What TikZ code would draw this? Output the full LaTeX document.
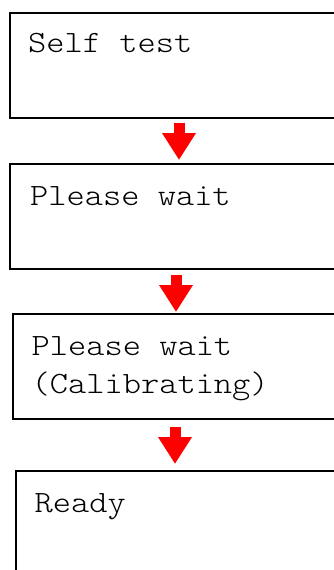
\documentclass[tikz,border=0pt]{standalone}
\usepackage{xcolor}
\usepackage{fontspec}
\usepackage{tikz}
\usetikzlibrary{arrows.meta}
\newfontfamily\lcdfont[FakeStretch=1.12]{Latin Modern Mono Light}

\tikzset{
  screen/.style={draw, line width=2pt, anchor=north west, inner sep=0pt, outer sep=0pt,
    minimum width=340pt, minimum height=105pt},
  msg/.style={anchor=base west, inner sep=0pt, align=left,
    font=\lcdfont\fontsize{31}{38}\selectfont},
  flow/.style={red, line width=11pt, -{Triangle[length=27pt,width=32pt]}}
}

\begin{document}
\begin{tikzpicture}[x=1pt, y=-1pt]
\useasboundingbox (0,0) rectangle (334,570);
\clip (0,0) rectangle (334,570);
% the four screens
\node[screen] (selftest) at (10,13) {};
\node[screen] (wait) at (10,164) {};
\node[screen] (calib) at (13,314) {};
\node[screen] (ready) at (16,471) {};
% what each screen shows
\node[msg] (selftestmsg) at ([shift={(18pt,-39pt)}]selftest.north west) {Self test};
\node[msg] (waitmsg) at ([shift={(20pt,-41pt)}]wait.north west) {Please wait};
\node[msg] (calibmsg) at ([shift={(18.5pt,-79pt)}]calib.north west) {Please wait\\(Calibrating)};
\node[msg] (readymsg) at ([shift={(18.5pt,-41pt)}]ready.north west) {Ready};
% red arrows between the screens
\draw[flow] ([shift={(169pt,-5pt)}]selftest.south west) -- ([shift={(169pt,4pt)}]wait.north west);
\draw[flow] ([shift={(166pt,-6pt)}]wait.south west) -- ([shift={(163pt,2pt)}]calib.north west);
\draw[flow] ([shift={(162pt,-8pt)}]calib.south west) -- ([shift={(159pt,7pt)}]ready.north west);
\end{tikzpicture}
\end{document}
